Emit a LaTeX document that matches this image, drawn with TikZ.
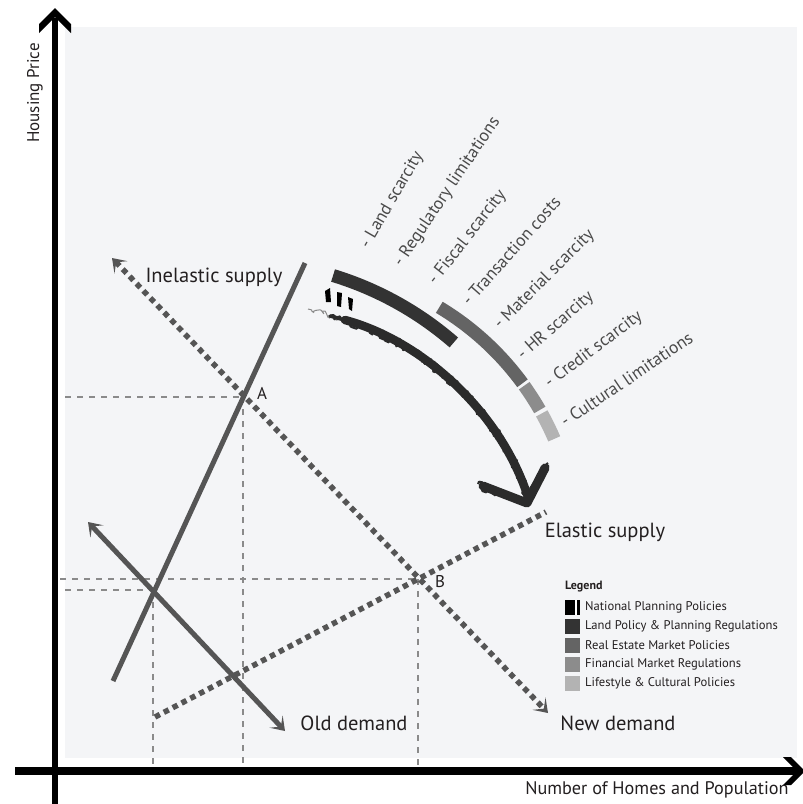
\documentclass[tikz,border=0pt]{standalone}
\usepackage{fontspec}
\setmainfont{PT Sans}
\usetikzlibrary{arrows.meta,decorations.pathmorphing}
\definecolor{panel}{HTML}{F4F5F7}
\definecolor{lineg}{HTML}{555555}
\definecolor{ink}{HTML}{231F20}
\definecolor{guide}{HTML}{8A8A8A}
\definecolor{lblg}{HTML}{4A4A4A}
\definecolor{barA}{HTML}{333333}
\definecolor{barB}{HTML}{646464}
\definecolor{barC}{HTML}{8C8C8C}
\definecolor{barD}{HTML}{B3B3B3}
\definecolor{brushc}{HTML}{2B2B2B}
\begin{document}
\begin{tikzpicture}[x=1pt,y=-1pt,
  solidline/.style={draw=lineg, line width=5pt},
  dotline/.style={draw=lineg, line width=5.5pt, dash pattern=on 5.5pt off 4.5pt},
  guideline/.style={draw=guide, line width=1.3pt, dash pattern=on 6pt off 6pt},
  chevboth/.style={{Stealth[length=13pt,width=18pt,inset=7pt]}-{Stealth[length=13pt,width=18pt,inset=7pt]}},
  biglbl/.style={font=\fontsize{20.5}{24}\selectfont, text=ink, inner sep=0pt},
  ptlbl/.style={font=\fontsize{17}{20}\selectfont, text=ink, inner sep=0pt},
  rlbl/.style={font=\fontsize{17.5}{20}\selectfont, text=lblg, anchor=west, inner sep=0pt},
  leg/.style={font=\fontsize{12.6}{14}\selectfont, text=ink, anchor=west, inner sep=0pt},
  bar/.style={line width=13pt, line cap=butt},
  brushbase/.style={draw=brushc, line width=8.5pt, line cap=round, line join=round},
  brushfuzz/.style={draw=brushc, line width=2pt, line join=bevel, decorate,
    decoration={random steps, segment length=1.5pt, amplitude=3.4pt}},
]
\pgfmathsetseed{11}
\useasboundingbox (0,0) rectangle (803,804);
% panel
\fill[panel] (65,27) rectangle (797,758);

% key points
\coordinate (A) at (243,397);
\coordinate (B) at (418,579);
\coordinate (E) at (153,590);
\coordinate (xb) at (0,768);
\coordinate (yl) at (65,0);
\coordinate (yl2) at (60,0);
\coordinate (isTop) at (305,263);
\coordinate (isBot) at (113,681);
\coordinate (odTL) at (88,522);
\coordinate (odBR) at (285,731);
\coordinate (ndTL) at (112,258);
\coordinate (ndBR) at (548,713);
\coordinate (esL) at (155,717);
\coordinate (esR) at (546,512);

% guides
\draw[guideline] (yl |- A) -- (A);
\draw[guideline] (A) -- (A |- xb);
\draw[guideline] (yl2 |- B) -- (B);
\draw[guideline] (B) -- (B |- xb);
\draw[guideline] (yl |- E) -- (E);
\draw[guideline] (E) -- (E |- xb);

% curves
\draw[solidline] (isBot) -- (isTop);
\draw[solidline, chevboth] (odTL) -- (odBR);
\draw[dotline, chevboth] (ndTL) -- (ndBR);
\draw[dotline] (esL) -- (esR);

% labels
\node[biglbl] (lis) at (214,277) {Inelastic supply};
\node[biglbl] (lod) at (354,723) {Old demand};
\node[biglbl] (lnd) at (618,723) {New demand};
\node[biglbl] (les) at (605,532) {Elastic supply};
\node[ptlbl] (lA) at (262,393) {A};
\node[ptlbl] (lB) at (440,582) {B};

% policy bars
\coordinate (c1) at (236,593);
\coordinate (c2) at (292.5,551.6);
\draw[bar, barA] (c1) ++(-73:332) arc[start angle=-73, end angle=-49, radius=332];
\draw[bar, barB] (c2) ++(-59:285) arc[start angle=-59, end angle=-36.2, radius=285];
\draw[bar, barC] (c2) ++(-35.6:285) arc[start angle=-35.6, end angle=-29.8, radius=285];
\draw[bar, barD] (c2) ++(-29.0:285) arc[start angle=-29.0, end angle=-23.3, radius=285];

% rotated factor labels
\node[rlbl, rotate=60] (f1) at (365,247) {- Land scarcity};
\node[rlbl, rotate=56] (f2) at (398,265) {- Regulatory limitations};
\node[rlbl, rotate=52] (f3) at (432,283) {- Fiscal scarcity};
\node[rlbl, rotate=48.5] (f4) at (465,303) {- Transaction costs};
\node[rlbl, rotate=45] (f5) at (497,327) {- Material scarcity};
\node[rlbl, rotate=41] (f6) at (520,357) {- HR scarcity};
\node[rlbl, rotate=37] (f7) at (547,385) {- Credit scarcity};
\node[rlbl, rotate=34] (f8) at (562,423) {- Cultural limitations};

% national planning marks
\fill[black] (325,291) -- (330,288) -- (331,302) -- (326,302) -- cycle;
\fill[black] (337,292) -- (342,293) -- (341,307) -- (337,306) -- cycle;
\fill[black] (348,297) -- (353,299) -- (352,311) -- (349,309) -- cycle;

% brush arrow
\draw[brushfuzz, draw=brushc!55, line width=1pt] (308,309) -- (342,319);
\draw[brushbase, line width=3.5pt] (330,316) -- (348,321);
\draw[brushfuzz] (330,316) -- (348,321);
\draw[brushbase] (345,320) .. controls (420,340) and (500,410) .. (528,497);
\draw[brushfuzz] (343,319) .. controls (420,339) and (501,409) .. (529,497);
\draw[brushfuzz] (345,322) .. controls (420,342) and (499,411) .. (527,497);
\draw[brushbase, line width=9pt] (483,486) -- (527,503) -- (545,468);
\draw[brushfuzz] (478,484) -- (527,503) -- (548,463);
\draw[brushfuzz] (480,487) -- (526,502) -- (546,464);

% legend
\node[leg, font=\fontsize{12}{14}\selectfont\bfseries] (lg) at (565,587) {Legend};
\fill[black] (565,600) rectangle (580,615);
\fill[white] (575,600) rectangle (576.6,615);
\fill[barA] (565,619) rectangle (580,634);
\fill[barB] (565,638) rectangle (580,653);
\fill[barC] (565,657) rectangle (580,672);
\fill[barD] (565,676) rectangle (580,691);
\node[leg] (l1) at (585,607) {National Planning Policies};
\node[leg] (l2) at (585,626) {Land Policy \& Planning Regulations};
\node[leg] (l3) at (585,645) {Real Estate Market Policies};
\node[leg] (l4) at (585,664) {Financial Market Regulations};
\node[leg] (l5) at (585,683) {Lifestyle \& Cultural Policies};

% axes
\draw[line width=6.5pt] (55,18) -- (55,804);
\fill (55,8) -- (71,24) -- (71,33) -- (55,17) -- (39,33) -- (39,24) -- cycle;
\draw[line width=8pt] (15,771) -- (798,771);
\fill (805,771) -- (791,757) -- (783,757) -- (797,771) -- (783,785) -- (791,785) -- cycle;
\node[font=\fontsize{17}{19}\selectfont, text=ink, rotate=90, inner sep=0pt] (ylab) at (35,93) {Housing Price};
\node[font=\fontsize{18.2}{20}\selectfont, text=ink, inner sep=0pt] (xlab) at (657,790) {Number of Homes and Population};
\end{tikzpicture}
\end{document}
